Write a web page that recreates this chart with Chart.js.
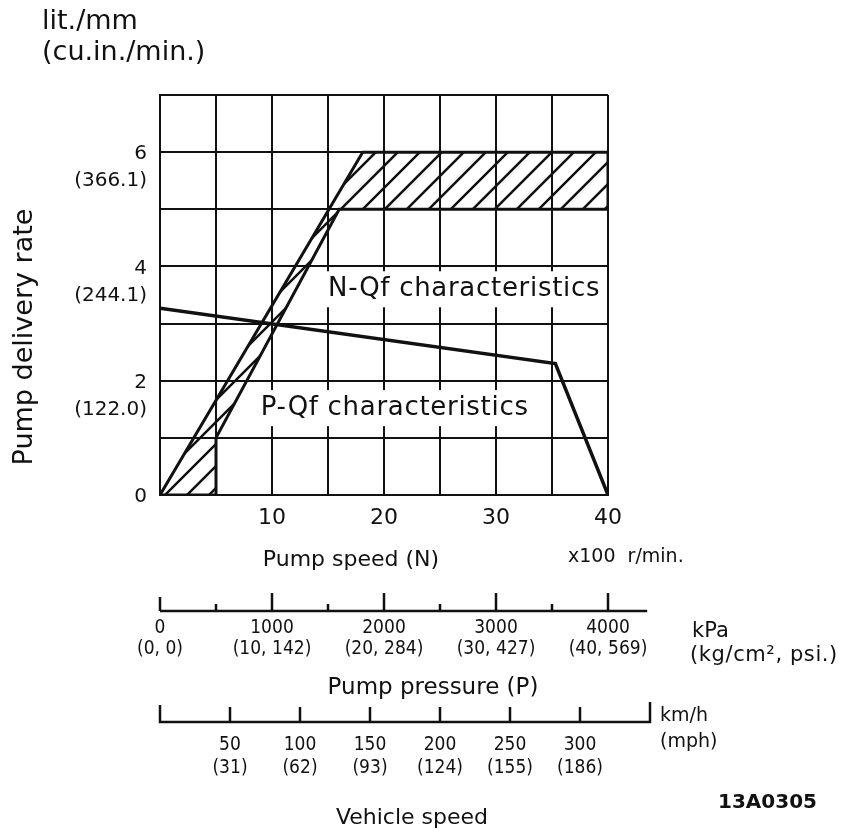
<!DOCTYPE html>
<html>
<head>
<meta charset="utf-8">
<title>Pump delivery rate</title>
<script src="https://cdn.jsdelivr.net/npm/chart.js@4.4.1/dist/chart.umd.min.js"></script>
<style>
  html, body { margin: 0; padding: 0; background: #fff; }
  #wrap { width: 842px; height: 833px; }
</style>
</head>
<body>
<div id="wrap"><canvas id="chart"></canvas></div>
<script>
// Pump speed (x100 r/min) and delivery rate (lit./mm) ticks
const pumpSpeedLabels = [10, 20, 30, 40];
const deliveryTicks = [0, 2, 4, 6];
const deliveryImperial = ['', '(122.0)', '(244.1)', '(366.1)'];

// N-Qf characteristics band, outline traced in order
const bandSpeed = [0, 18.1, 40, 40, 16, 5, 5, 0];
const bandRate = [0, 6, 6, 5, 5, 1, 0, 0];

// P-Qf characteristics
const pqfSpeed = [0, 35.3, 40];
const pqfRate = [3.27, 2.3, 0];

// Pump pressure scale (kPa), same origin as pump speed
const pressureKPa = [0, 1000, 2000, 3000, 4000];
const pressureImperial = ['(0, 0)', '(10, 142)', '(20, 284)', '(30, 427)', '(40, 569)'];
const kPaPerSpeedUnit = 100;
const pressureScaleEnd = 4350;

// Vehicle speed scale (km/h)
const vehicleKmh = [50, 100, 150, 200, 250, 300];
const vehicleMph = ['(31)', '(62)', '(93)', '(124)', '(155)', '(186)'];
const kmhPerSpeedUnit = 8;
const vehicleScaleEnd = 350;

const ink = '#111';
const sans = '"DejaVu Sans", "Liberation Sans", sans-serif';

function toPoints(xs, ys) {
    return xs.map((v, i) => ({ x: v, y: ys[i] }));
}

// diagonal hatch fill for the N-Qf band
function makeHatch() {
    const size = 22;
    const c = document.createElement('canvas');
    c.width = size;
    c.height = size;
    const g = c.getContext('2d');
    g.strokeStyle = ink;
    g.lineWidth = 2.5;
    g.beginPath();
    g.moveTo(-2, size + 2); g.lineTo(size + 2, -2);
    g.moveTo(-3, 3); g.lineTo(3, -3);
    g.moveTo(size - 3, size + 3); g.lineTo(size + 3, size - 3);
    g.stroke();
    return g.createPattern(c, 'repeat');
}

function drawText(ctx, str, x, y, font, align, squeeze, spacing) {
    ctx.save();
    ctx.font = font;
    ctx.fillStyle = ink;
    ctx.textAlign = align || 'left';
    ctx.textBaseline = 'middle';
    if (spacing) ctx.letterSpacing = spacing;
    ctx.translate(x, y);
    if (squeeze) ctx.scale(squeeze, 1);
    ctx.fillText(str, 0, 0);
    ctx.restore();
}

function boxedLabel(ctx, str, x, y) {
    const font = '26px ' + sans;
    ctx.save();
    ctx.font = font;
    ctx.letterSpacing = '0.7px';
    const w = ctx.measureText(str).width;
    ctx.fillStyle = '#fff';
    ctx.fillRect(x - 6, y - 18, w + 10, 36);
    ctx.restore();
    drawText(ctx, str, x, y, font, 'left', 0, '0.7px');
}

const extras = {
    id: 'extras',
    afterDraw(chart) {
        const ctx = chart.ctx;
        const xs = chart.scales.x;
        const ys = chart.scales.y;
        const px = v => xs.getPixelForValue(v);

        // labels inside the plot
        boxedLabel(ctx, 'N-Qf characteristics', px(15), ys.getPixelForValue(3.6));
        boxedLabel(ctx, 'P-Qf characteristics', px(9), ys.getPixelForValue(1.52));

        // units and axis titles
        drawText(ctx, 'lit./mm', 42, 22, '27px ' + sans);
        drawText(ctx, '(cu.in./min.)', 42, 53, '27px ' + sans);

        ctx.save();
        ctx.translate(32, 337);
        ctx.rotate(-Math.PI / 2);
        ctx.font = '27px ' + sans;
        ctx.fillStyle = ink;
        ctx.textAlign = 'center';
        ctx.textBaseline = 'alphabetic';
        ctx.fillText('Pump delivery rate', 0, 0);
        ctx.restore();

        drawText(ctx, 'Pump speed (N)', 351, 560, '22px ' + sans, 'center');
        drawText(ctx, 'x100  r/min.', 568, 557, '19px ' + sans);

        ctx.save();
        ctx.strokeStyle = ink;
        ctx.lineWidth = 2.5;

        // pump pressure scale
        const pBase = 611;
        ctx.beginPath();
        ctx.moveTo(px(0), pBase);
        ctx.lineTo(px(pressureScaleEnd / kPaPerSpeedUnit), pBase);
        for (let k = 0; k <= 4000; k += 500) {
            const len = k === 0 ? 14 : (k % 1000 === 0 ? 18 : 7);
            ctx.moveTo(px(k / kPaPerSpeedUnit), pBase);
            ctx.lineTo(px(k / kPaPerSpeedUnit), pBase - len);
        }
        ctx.stroke();

        // vehicle speed scale
        const vBase = 722;
        const vEnd = px(vehicleScaleEnd / kmhPerSpeedUnit);
        ctx.beginPath();
        ctx.moveTo(px(0), vBase - 17);
        ctx.lineTo(px(0), vBase);
        ctx.lineTo(vEnd, vBase);
        ctx.lineTo(vEnd, vBase - 20);
        vehicleKmh.forEach(k => {
            ctx.moveTo(px(k / kmhPerSpeedUnit), vBase);
            ctx.lineTo(px(k / kmhPerSpeedUnit), vBase - 15);
        });
        ctx.stroke();
        ctx.restore();

        const small = '19px ' + sans;
        pressureKPa.forEach((k, i) => {
            drawText(ctx, String(k), px(k / kPaPerSpeedUnit), 628, small, 'center', 0.9);
            drawText(ctx, pressureImperial[i], px(k / kPaPerSpeedUnit), 649, small, 'center', 0.9);
        });
        drawText(ctx, 'kPa', 692, 632, '21px ' + sans);
        drawText(ctx, '(kg/cm², psi.)', 690, 656, '21px ' + sans, 'left', 0, '0.6px');
        drawText(ctx, 'Pump pressure (P)', 433, 688, '23px ' + sans, 'center');

        vehicleKmh.forEach((k, i) => {
            drawText(ctx, String(k), px(k / kmhPerSpeedUnit), 745, small, 'center', 0.9);
            drawText(ctx, vehicleMph[i], px(k / kmhPerSpeedUnit), 768, small, 'center', 0.9);
        });
        drawText(ctx, 'km/h', 660, 716, '19px ' + sans);
        drawText(ctx, '(mph)', 660, 742, '19px ' + sans);
        drawText(ctx, 'Vehicle speed', 412, 818, '22px ' + sans, 'center');
        drawText(ctx, '13A0305', 718, 803, 'bold 20px ' + sans);
    }
};

document.addEventListener('DOMContentLoaded', function () {
    Chart.defaults.font.family = sans;
    Chart.defaults.color = ink;

    const ctx = document.getElementById('chart').getContext('2d');
    const chart = new Chart(ctx, {
        type: 'line',
        data: {
            datasets: [{
                label: 'N-Qf characteristics',
                data: toPoints(bandSpeed, bandRate),
                borderColor: ink,
                borderWidth: 3,
                backgroundColor: makeHatch(),
                fill: 'shape',
                pointRadius: 0,
                tension: 0
            },
            {
                label: 'P-Qf characteristics',
                data: toPoints(pqfSpeed, pqfRate),
                borderColor: ink,
                borderWidth: 3.5,
                fill: false,
                pointRadius: 0,
                tension: 0
            }]
        },
        plugins: [extras],
        options: {
            responsive: true,
            maintainAspectRatio: false,
            animation: false,
            layout: { padding: { top: 95, right: 234, left: 0, bottom: 0 } },
            plugins: {
                legend: { display: false },
                tooltip: { enabled: false }
            },
            scales: {
                x: {
                    type: 'linear',
                    min: 0,
                    max: 40,
                    afterFit: function (scale) { scale.height = 338; },
                    border: { display: true, color: ink, width: 2 },
                    grid: { color: ink, lineWidth: 2, drawTicks: false },
                    ticks: {
                        stepSize: 5,
                        autoSkip: false,
                        maxRotation: 0,
                        padding: 10,
                        font: { size: 22 },
                        callback: v => pumpSpeedLabels.includes(v) ? String(v) : ''
                    }
                },
                y: {
                    min: 0,
                    max: 7,
                    afterFit: function (scale) { scale.width = 160; },
                    border: { display: true, color: ink, width: 2 },
                    grid: { color: ink, lineWidth: 2, drawTicks: false },
                    ticks: {
                        stepSize: 1,
                        autoSkip: false,
                        padding: 13,
                        labelOffset: 15.5,
                        font: { size: 20, lineHeight: 1.35 },
                        callback: function (v) {
                            const i = deliveryTicks.indexOf(v);
                            if (i < 0) return '';
                            return [String(v), deliveryImperial[i]];
                        }
                    }
                }
            }
        }
    });
});
</script>
</body>
</html>
